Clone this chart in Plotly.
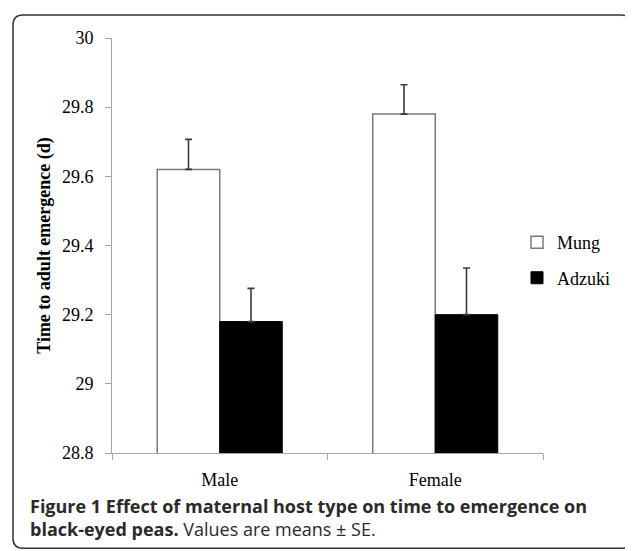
import plotly.graph_objects as go

categories = ["Male", "Female"]
mung_values = [29.62, 29.78]
mung_se = [0.087, 0.085]
adzuki_values = [29.18, 29.20]
adzuki_se = [0.096, 0.135]
y_ticks = [28.8, 29.0, 29.2, 29.4, 29.6, 29.8, 30.0]
y_tick_labels = ["28.8", "29", "29.2", "29.4", "29.6", "29.8", "30"]

# page body has an 8px margin, so work in page pixels shifted by OFF
OFF = 8
W, H = 633 - OFF, 551 - OFF
L = 112 - OFF
T = 38 - OFF
R = W - (543 - OFF)
B = H - (452.7 - OFF)
pw = W - L - R
ph = H - T - B


def px(x):
    return (x - OFF - L) / pw


def py(y):
    return (H - B - (y - OFF)) / ph


serif = "Liberation Serif"

fig = go.Figure()
fig.add_trace(go.Bar(
    x=categories, y=mung_values, name="Mung", legendgroup="mung",
    marker=dict(color="white", line=dict(color="#7a7a7a", width=1.5)),
    error_y=dict(type="data", symmetric=False, array=mung_se, arrayminus=[0, 0],
                 color="#3a3a3a", thickness=1.6, width=3.5),
))
fig.add_trace(go.Bar(
    x=categories, y=adzuki_values, name="Adzuki", legendgroup="adzuki",
    marker=dict(color="black", line=dict(color="black", width=1)),
    error_y=dict(type="data", symmetric=False, array=adzuki_se, arrayminus=[0, 0],
                 color="#3a3a3a", thickness=1.6, width=3.5),
))

fig.update_layout(
    width=W, height=H,
    margin=dict(l=L, r=R, t=T, b=B, autoexpand=False),
    paper_bgcolor="white", plot_bgcolor="white",
    barmode="group", bargap=0.42, bargroupgap=0,
    font=dict(family=serif, size=18, color="black"),
    showlegend=True,
    legend=dict(x=px(517), xanchor="left", y=py(260), yanchor="middle",
                font=dict(family=serif, size=18, color="black"),
                bgcolor="rgba(0,0,0,0)", traceorder="grouped", tracegroupgap=9),
    xaxis=dict(
        type="category", showline=True, linecolor="#a6a6a6", linewidth=1,
        ticks="outside", tickson="boundaries", ticklen=6, tickcolor="#a6a6a6",
        showgrid=False, zeroline=False, ticklabelstandoff=10,
        tickfont=dict(family=serif, size=18, color="black"),
    ),
    yaxis=dict(
        range=[28.8, 30.0], tickvals=y_ticks, ticktext=y_tick_labels,
        showline=True, linecolor="#a6a6a6", linewidth=1,
        ticks="outside", ticklen=6, tickcolor="#a6a6a6",
        showgrid=False, zeroline=False, ticklabelstandoff=8,
        tickfont=dict(family=serif, size=18, color="black"),
        title=dict(text="<b>Time to adult emergence (d)</b>",
                   font=dict(family=serif, size=18, color="black"), standoff=6),
    ),
)

# rounded figure border
r = 10
x0, x1, y0, y1 = 13, 631, 15, 548
path = (
    f"M {px(x0 + r)} {py(y0)} L {px(x1 - r)} {py(y0)} "
    f"Q {px(x1)} {py(y0)} {px(x1)} {py(y0 + r)} "
    f"L {px(x1)} {py(y1 - r)} Q {px(x1)} {py(y1)} {px(x1 - r)} {py(y1)} "
    f"L {px(x0 + r)} {py(y1)} Q {px(x0)} {py(y1)} {px(x0)} {py(y1 - r)} "
    f"L {px(x0)} {py(y0 + r)} Q {px(x0)} {py(y0)} {px(x0 + r)} {py(y0)} Z"
)
fig.add_shape(type="path", path=path, xref="paper", yref="paper",
              line=dict(color="#333333", width=1.5), layer="above")

cap_font = dict(family="Open Sans", size=18, color="#2a2a2a")
fig.add_annotation(
    text=("<b>Figure 1 Effect of maternal host type on time to emergence on</b><br>"
          "<b>black-eyed peas.</b> Values are means ± SE."),
    xref="paper", yref="paper", x=px(28), y=py(517), xanchor="left", yanchor="middle",
    align="left", showarrow=False, font=cap_font)

fig.write_html("out.html")
